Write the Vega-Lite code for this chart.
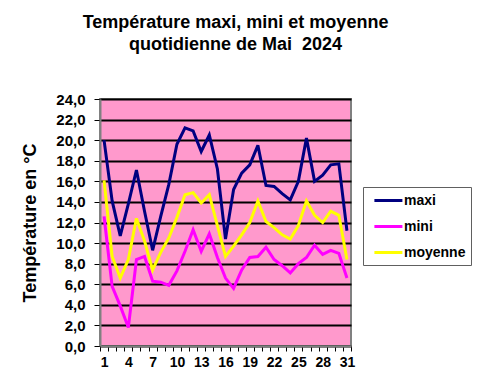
{
  "$schema": "https://vega.github.io/schema/vega-lite/v6.json",
  "width": 251,
  "height": 247,
  "autosize": "none",
  "padding": {"left": 100, "top": 99, "right": 131, "bottom": 29},
  "background": "white",
  "title": {
    "text": ["Température maxi, mini et moyenne", "quotidienne de Mai\u00a0 2024"],
    "font": "Liberation Sans",
    "fontSize": 18,
    "fontWeight": "bold",
    "color": "black",
    "anchor": "middle",
    "dx": 10,
    "lineHeight": 22,
    "offset": 38
  },
  "data": {
    "values": [
      {"jour": 1, "serie": "maxi", "temp": 20.0}, {"jour": 2, "serie": "maxi", "temp": 14.1}, {"jour": 3, "serie": "maxi", "temp": 10.7}, {"jour": 4, "serie": "maxi", "temp": 13.8}, {"jour": 5, "serie": "maxi", "temp": 17.1}, {"jour": 6, "serie": "maxi", "temp": 13.1}, {"jour": 7, "serie": "maxi", "temp": 9.3}, {"jour": 8, "serie": "maxi", "temp": 12.6}, {"jour": 9, "serie": "maxi", "temp": 15.7}, {"jour": 10, "serie": "maxi", "temp": 19.6}, {"jour": 11, "serie": "maxi", "temp": 21.2}, {"jour": 12, "serie": "maxi", "temp": 20.9}, {"jour": 13, "serie": "maxi", "temp": 18.9}, {"jour": 14, "serie": "maxi", "temp": 20.5}, {"jour": 15, "serie": "maxi", "temp": 17.2}, {"jour": 16, "serie": "maxi", "temp": 10.4}, {"jour": 17, "serie": "maxi", "temp": 15.2}, {"jour": 18, "serie": "maxi", "temp": 16.8}, {"jour": 19, "serie": "maxi", "temp": 17.6}, {"jour": 20, "serie": "maxi", "temp": 19.5}, {"jour": 21, "serie": "maxi", "temp": 15.6}, {"jour": 22, "serie": "maxi", "temp": 15.5}, {"jour": 23, "serie": "maxi", "temp": 14.8}, {"jour": 24, "serie": "maxi", "temp": 14.2}, {"jour": 25, "serie": "maxi", "temp": 16.0}, {"jour": 26, "serie": "maxi", "temp": 20.2}, {"jour": 27, "serie": "maxi", "temp": 16.0}, {"jour": 28, "serie": "maxi", "temp": 16.6}, {"jour": 29, "serie": "maxi", "temp": 17.6}, {"jour": 30, "serie": "maxi", "temp": 17.7}, {"jour": 31, "serie": "maxi", "temp": 11.2},
      {"jour": 1, "serie": "mini", "temp": 12.6}, {"jour": 2, "serie": "mini", "temp": 5.8}, {"jour": 3, "serie": "mini", "temp": 3.9}, {"jour": 4, "serie": "mini", "temp": 1.8}, {"jour": 5, "serie": "mini", "temp": 8.4}, {"jour": 6, "serie": "mini", "temp": 8.7}, {"jour": 7, "serie": "mini", "temp": 6.3}, {"jour": 8, "serie": "mini", "temp": 6.2}, {"jour": 9, "serie": "mini", "temp": 5.9}, {"jour": 10, "serie": "mini", "temp": 7.3}, {"jour": 11, "serie": "mini", "temp": 9.2}, {"jour": 12, "serie": "mini", "temp": 11.3}, {"jour": 13, "serie": "mini", "temp": 9.2}, {"jour": 14, "serie": "mini", "temp": 10.9}, {"jour": 15, "serie": "mini", "temp": 8.6}, {"jour": 16, "serie": "mini", "temp": 6.6}, {"jour": 17, "serie": "mini", "temp": 5.6}, {"jour": 18, "serie": "mini", "temp": 7.4}, {"jour": 19, "serie": "mini", "temp": 8.6}, {"jour": 20, "serie": "mini", "temp": 8.7}, {"jour": 21, "serie": "mini", "temp": 9.6}, {"jour": 22, "serie": "mini", "temp": 8.4}, {"jour": 23, "serie": "mini", "temp": 7.8}, {"jour": 24, "serie": "mini", "temp": 7.1}, {"jour": 25, "serie": "mini", "temp": 8.0}, {"jour": 26, "serie": "mini", "temp": 8.6}, {"jour": 27, "serie": "mini", "temp": 9.8}, {"jour": 28, "serie": "mini", "temp": 8.9}, {"jour": 29, "serie": "mini", "temp": 9.3}, {"jour": 30, "serie": "mini", "temp": 9.0}, {"jour": 31, "serie": "mini", "temp": 6.6},
      {"jour": 1, "serie": "moyenne", "temp": 16.1}, {"jour": 2, "serie": "moyenne", "temp": 8.7}, {"jour": 3, "serie": "moyenne", "temp": 6.6}, {"jour": 4, "serie": "moyenne", "temp": 8.4}, {"jour": 5, "serie": "moyenne", "temp": 12.4}, {"jour": 6, "serie": "moyenne", "temp": 10.2}, {"jour": 7, "serie": "moyenne", "temp": 7.4}, {"jour": 8, "serie": "moyenne", "temp": 9.1}, {"jour": 9, "serie": "moyenne", "temp": 10.5}, {"jour": 10, "serie": "moyenne", "temp": 12.5}, {"jour": 11, "serie": "moyenne", "temp": 14.7}, {"jour": 12, "serie": "moyenne", "temp": 14.9}, {"jour": 13, "serie": "moyenne", "temp": 13.9}, {"jour": 14, "serie": "moyenne", "temp": 14.7}, {"jour": 15, "serie": "moyenne", "temp": 11.7}, {"jour": 16, "serie": "moyenne", "temp": 8.7}, {"jour": 17, "serie": "moyenne", "temp": 9.7}, {"jour": 18, "serie": "moyenne", "temp": 10.8}, {"jour": 19, "serie": "moyenne", "temp": 12.0}, {"jour": 20, "serie": "moyenne", "temp": 14.1}, {"jour": 21, "serie": "moyenne", "temp": 12.1}, {"jour": 22, "serie": "moyenne", "temp": 11.5}, {"jour": 23, "serie": "moyenne", "temp": 10.8}, {"jour": 24, "serie": "moyenne", "temp": 10.4}, {"jour": 25, "serie": "moyenne", "temp": 11.7}, {"jour": 26, "serie": "moyenne", "temp": 14.1}, {"jour": 27, "serie": "moyenne", "temp": 12.7}, {"jour": 28, "serie": "moyenne", "temp": 12.0}, {"jour": 29, "serie": "moyenne", "temp": 13.1}, {"jour": 30, "serie": "moyenne", "temp": 12.7}, {"jour": 31, "serie": "moyenne", "temp": 8.4}
    ]
  },
  "mark": {"type": "line", "strokeWidth": 3, "strokeJoin": "miter", "strokeMiterLimit": 3},
  "encoding": {
    "x": {
      "field": "jour",
      "type": "quantitative",
      "scale": {"domain": [0.5, 31.5], "nice": false, "zero": false},
      "axis": {
        "title": null,
        "grid": false,
        "values": [0.5, 1, 1.5, 2.5, 3.5, 4, 4.5, 5.5, 6.5, 7, 7.5, 8.5, 9.5, 10, 10.5, 11.5, 12.5, 13, 13.5, 14.5, 15.5, 16, 16.5, 17.5, 18.5, 19, 19.5, 20.5, 21.5, 22, 22.5, 23.5, 24.5, 25, 25.5, 26.5, 27.5, 28, 28.5, 29.5, 30.5, 31, 31.5],
        "labelExpr": "datum.value % 1 == 0 ? datum.label : ''",
        "labelOverlap": false,
        "labelFlush": false,
        "tickOpacity": {"condition": {"test": "datum.value % 1 != 0", "value": 1}, "value": 0},
        "tickSize": 5,
        "tickColor": "black",
        "tickWidth": 1,
        "domainColor": "#808080",
        "domainWidth": 2,
        "labelFont": "Liberation Sans",
        "labelFontSize": 14,
        "labelFontWeight": "bold",
        "labelColor": "black",
        "labelPadding": 4
      }
    },
    "y": {
      "field": "temp",
      "type": "quantitative",
      "scale": {"domain": [0, 24], "nice": false},
      "axis": {
        "title": "Température en °C",
        "titleFont": "Liberation Sans",
        "titleFontSize": 18,
        "titleFontWeight": "bold",
        "titleColor": "black",
        "titlePadding": 16,
        "values": [0, 2, 4, 6, 8, 10, 12, 14, 16, 18, 20, 22, 24],
        "labelExpr": "replace(format(datum.value, '.1f'), '.', ',')",
        "labelFont": "Liberation Sans",
        "labelFontSize": 15,
        "labelFontWeight": "bold",
        "labelColor": "black",
        "labelPadding": 9,
        "tickSize": 6,
        "tickColor": "black",
        "domainColor": "#808080",
        "domainWidth": 2,
        "grid": true,
        "gridColor": "black",
        "gridWidth": 2
      }
    },
    "color": {
      "field": "serie",
      "type": "nominal",
      "scale": {"domain": ["maxi", "mini", "moyenne"], "range": ["#000080", "#FF00FF", "#FFFF00"]},
      "legend": {
        "title": null,
        "orient": "none",
        "legendX": 263,
        "legendY": 88,
        "direction": "vertical",
        "fillColor": "white",
        "strokeColor": "#606060",
        "padding": 5,
        "symbolType": "M-0.3,0H3.7",
        "symbolSize": 196,
        "symbolStrokeWidth": 3,
        "symbolFillColor": "transparent",
        "labelOffset": 19,
        "rowPadding": 10,
        "labelFont": "Liberation Sans",
        "labelFontSize": 14,
        "labelFontWeight": "bold",
        "labelColor": "black",
        "labelExpr": "datum.label + '\u00a0\u00a0'"
      }
    }
  },
  "config": {
    "view": {"fill": "#FF99CC", "stroke": "#808080", "strokeWidth": 2}
  }
}
